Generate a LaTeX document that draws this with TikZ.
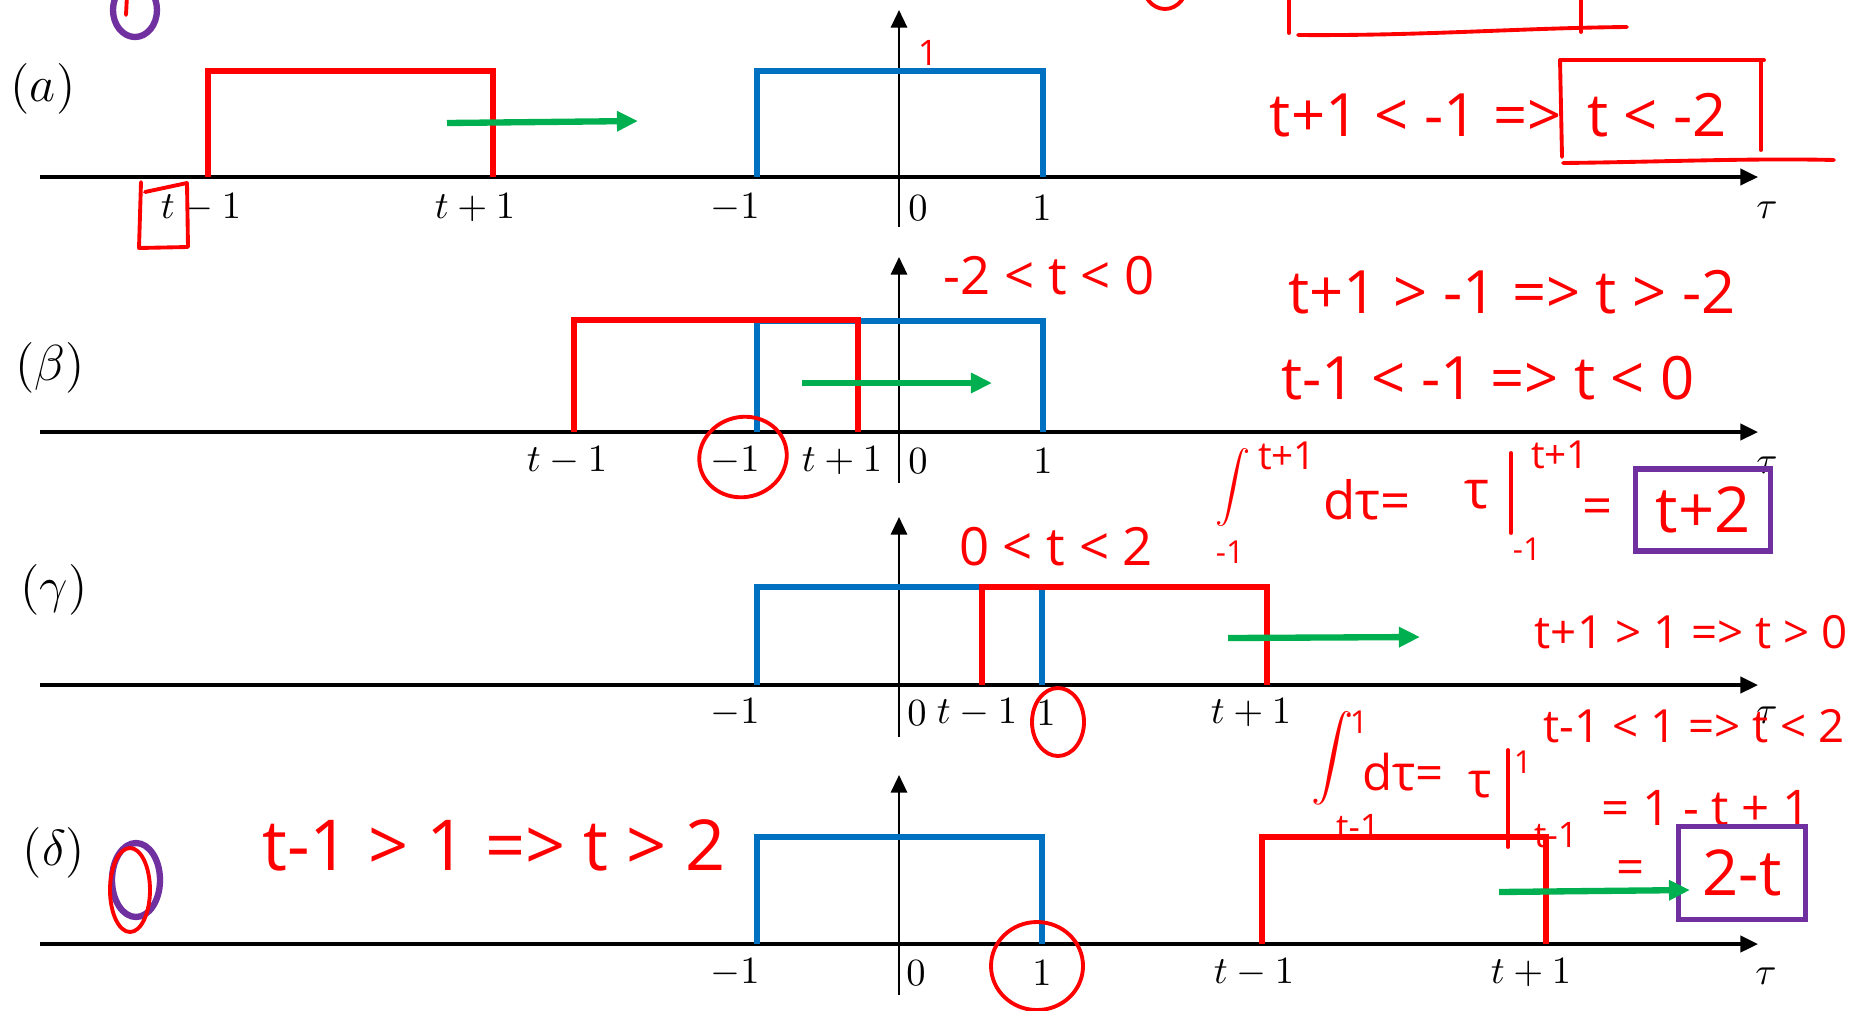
\documentclass[tikz,border=0pt]{standalone}
\usepackage{amsmath}
\usepackage{fontspec}
\usetikzlibrary{positioning, arrows.meta}
\newfontfamily\handfont{Open Sans}
\definecolor{Cr}{RGB}{255,0,0}
\definecolor{Cb}{RGB}{0,112,192}
\definecolor{Cg}{RGB}{0,176,80}
\definecolor{Cv}{RGB}{112,48,160}
\tikzset{
  ax/.style={-{Triangle[length=5pt,width=4.6pt]}, line width=1pt, color=black},
  vax/.style={-{Triangle[length=5pt,width=4.6pt]}, line width=0.7pt, color=black},
  pr/.style={draw=Cr, line width=1.7pt},
  pb/.style={draw=Cb, line width=1.6pt},
  mv/.style={-{Triangle[length=6pt,width=5.5pt]}, line width=1.8pt, color=Cg},
  tk/.style={inner sep=0pt, font=\fontsize{10.5}{12}\selectfont},
  lbl/.style={inner sep=0pt, font=\fontsize{13.5}{15}\selectfont},
  hw/.style n args={1}{
    inner sep=0pt, text=Cr, font=\handfont\fontsize{#1}{#1}\selectfont
  },
  intg/.style n args={1}{
    inner sep=0pt, text=Cr, font=\fontsize{#1}{#1}\selectfont
  },
  ink/.style={draw=Cr, line width=1.1pt, line cap=round, line join=round},
  inkv/.style={draw=Cv, line width=1.8pt, line cap=round, line join=round},
  res/.style={draw=Cv, line width=1.6pt, inner sep=0pt, text=Cr,
    font=\handfont\fontsize{18}{18}\selectfont}
}

\begin{document}
\begin{tikzpicture}
\useasboundingbox (0,0) rectangle (18.54,-10.10);
\clip (0,0) rectangle (18.54,-10.10);

% ─────────────────────────────────────────────────────────────────────────────
%  leftovers of the previous page (cut at the top edge)
% ─────────────────────────────────────────────────────────────────────────────
\draw[inkv] (1.35,-0.10) ellipse [x radius=0.22, y radius=0.27];
\draw[ink] (1.27,0.05) -- (1.26,-0.15);
\draw[ink] (11.65,0.19) ellipse [x radius=0.23, y radius=0.28];
\draw[ink] (12.89,0.10) -- (12.89,-0.33);
\draw[ink] (15.81,0.10) -- (15.81,-0.32);
\draw[ink] (12.98,-0.35) .. controls (14.2,-0.36) and (15.2,-0.28) .. (16.27,-0.27);

% ─────────────────────────────────────────────────────────────────────────────
%  (a)  no overlap
% ─────────────────────────────────────────────────────────────────────────────
\node[lbl] (la) at (0.43,-0.89) {$(a)$};
\draw[ax]  (0.40,-1.77) -- (17.58,-1.77);
\draw[vax] (8.99,-2.27) -- (8.99,-0.10);
\draw[pb] (7.57,-1.77) -- (7.57,-0.71) -- (10.43,-0.71) -- (10.43,-1.77);
\draw[pr] (2.08,-1.77) -- (2.08,-0.71) -- (4.93,-0.71) -- (4.93,-1.77);
\draw[mv] (4.47,-1.23) -- (6.38,-1.21);

\node[tk] (a1) at (2.01,-2.08)  {$t-1$};
\node[tk] (a2) at (4.75,-2.08)  {$t+1$};
\node[tk] (a3) at (7.35,-2.08)  {$-1$};
\node[tk] (a4) at (9.18,-2.08)  {$0$};
\node[tk] (a5) at (10.42,-2.08) {$1$};
\node[tk] (a6) at (17.67,-2.10) {$\tau$};

\node[hw={10}] (aone) at (9.28,-0.53) {1};
\draw[ink] (1.45,-1.92) -- (1.87,-1.83) -- (1.88,-2.47) -- (1.39,-2.48) -- (1.41,-1.82);

\node[hw={17}] (hA2) at (16.57,-1.15) {t < -2};
\node[hw={17}, left=0.24cm of hA2] (hA1) {t+1 < -1 =>};
\draw[ink] (15.60,-0.60) -- (17.64,-0.60);
\draw[ink] (15.60,-0.60) -- (15.62,-1.57);
\draw[ink] (17.61,-0.62) -- (17.61,-1.50);
\draw[ink] (15.63,-1.63) .. controls (16.6,-1.62) and (17.5,-1.58) .. (18.34,-1.60);

% ─────────────────────────────────────────────────────────────────────────────
%  (β)  partial overlap from the left
% ─────────────────────────────────────────────────────────────────────────────
\node[lbl] (lb) at (0.50,-3.68) {$(\beta)$};
\draw[ax]  (0.40,-4.32) -- (17.58,-4.32);
\draw[vax] (8.99,-4.83) -- (8.99,-2.57);
\draw[pb] (7.57,-4.32) -- (7.57,-3.21) -- (10.43,-3.21) -- (10.43,-4.32);
\draw[pr] (5.74,-4.32) -- (5.74,-3.20) -- (8.58,-3.20) -- (8.58,-4.32);
\draw[mv] (8.02,-3.83) -- (9.92,-3.83);

\node[tk] (b1) at (5.67,-4.61)  {$t-1$};
\node[tk] (b2) at (7.35,-4.61)  {$-1$};
\node[tk] (b3) at (8.42,-4.61)  {$t+1$};
\node[tk] (b4) at (9.18,-4.61)  {$0$};
\node[tk] (b5) at (10.43,-4.61) {$1$};
\node[tk] (b6) at (17.67,-4.65) {$\tau$};
\draw[ink, rotate around={15:(7.43,-4.57)}] (7.43,-4.57) ellipse [x radius=0.44, y radius=0.40];

\node[hw={15}] (hB0) at (10.49,-2.76) {-2 < t < 0};
\node[hw={17}] (hB1) at (15.12,-2.92) {t+1 > -1 => t > -2};
\node[hw={17}] (hB2) at (14.88,-3.78) {t-1 < -1 => t < 0};

% integral for (β)
\node[intg={10}] (iB)  at (12.33,-4.88) {$\displaystyle\int$};
\node[hw={11}]   (iBu) at (12.87,-4.56) {t+1};
\node[hw={9}]    (iBl) at (12.30,-5.52) {-1};
\node[hw={15}]   (dB)  at (13.67,-5.00) {dτ=};
\node[hw={15}]   (tB)  at (14.77,-4.95) {τ};
\draw[ink] (15.11,-4.53) -- (15.11,-5.33);
\node[hw={11}]   (tBu) at (15.60,-4.55) {t+1};
\node[hw={9}]    (tBl) at (15.27,-5.49) {-1};
\node[hw={15}]   (eB)  at (15.98,-5.12) {=};
\node[res, minimum width=1.35cm, minimum height=0.82cm] (resB) at (17.03,-5.10) {t+2};

% ─────────────────────────────────────────────────────────────────────────────
%  (γ)  partial overlap from the right
% ─────────────────────────────────────────────────────────────────────────────
\node[lbl] (lc) at (0.54,-5.90) {$(\gamma)$};
\draw[ax]  (0.40,-6.85) -- (17.58,-6.85);
\draw[vax] (8.99,-7.37) -- (8.99,-5.17);
\draw[pb] (7.57,-6.85) -- (7.57,-5.87) -- (10.42,-5.87) -- (10.42,-6.85);
\draw[pr] (9.82,-6.85) -- (9.82,-5.87) -- (12.67,-5.87) -- (12.67,-6.85);
\draw[mv] (12.28,-6.38) -- (14.20,-6.37);

\node[tk] (c1) at (7.35,-7.13)  {$-1$};
\node[tk] (c2) at (9.17,-7.13)  {$0$};
\node[tk] (c3) at (9.77,-7.13)  {$t-1$};
\node[tk] (c4) at (10.46,-7.13) {$1$};
\node[tk] (c5) at (12.51,-7.13) {$t+1$};
\node[tk] (c6) at (17.67,-7.15) {$\tau$};
\draw[ink] (10.58,-7.22) ellipse [x radius=0.26, y radius=0.34];

\node[hw={15}] (hG0) at (10.56,-5.47) {0 < t < 2};
\node[hw={13}] (hG1) at (16.91,-6.32) {t+1 > 1 => t > 0};
\node[hw={13}] (hG2) at (16.94,-7.26) {t-1 < 1 => t < 2};

% integral for (γ)
\node[intg={11.5}] (iD)  at (13.33,-7.58) {$\displaystyle\int$};
\node[hw={9}]      (iDu) at (13.59,-7.22) {1};
\node[hw={10}]     (iDl) at (13.58,-8.27) {t-1};
\node[hw={14}]     (dD)  at (14.03,-7.72) {dτ=};
\node[hw={14}]     (tD)  at (14.80,-7.85) {τ};
\draw[ink] (15.08,-7.50) -- (15.08,-8.47);
\node[hw={9}]      (tDu) at (15.23,-7.62) {1};
\node[hw={10}]     (tDl) at (15.56,-8.35) {t-1};
\node[hw={14}]     (eqD1) at (17.06,-8.08) {= 1 - t + 1};
\node[res, minimum width=1.27cm, minimum height=0.93cm] (resD) at (17.42,-8.73) {2-t};
\node[hw={14}, left=0.3cm of resD] (eqD2) {=};

% ─────────────────────────────────────────────────────────────────────────────
%  (δ)  no overlap any more
% ─────────────────────────────────────────────────────────────────────────────
\node[lbl] (ld) at (0.54,-8.53) {$(\delta)$};
\draw[inkv] (1.36,-8.80) ellipse [x radius=0.24, y radius=0.37];
\draw[ink] (1.30,-8.90) ellipse [x radius=0.20, y radius=0.42];
\draw[ax]  (0.40,-9.44) -- (17.58,-9.44);
\draw[vax] (8.99,-9.95) -- (8.99,-7.75);
\draw[pb] (7.57,-9.44) -- (7.57,-8.37) -- (10.42,-8.37) -- (10.42,-9.44);
\draw[pr] (12.62,-9.44) -- (12.62,-8.37) -- (15.46,-8.37) -- (15.46,-9.44);
\draw[mv] (14.99,-8.92) -- (16.90,-8.90);

\node[tk] (d1) at (7.35,-9.73)  {$-1$};
\node[tk] (d2) at (9.16,-9.73)  {$0$};
\node[tk] (d3) at (10.42,-9.73) {$1$};
\node[tk] (d4) at (12.54,-9.73) {$t-1$};
\node[tk] (d5) at (15.31,-9.73) {$t+1$};
\node[tk] (d6) at (17.66,-9.76) {$\tau$};
\draw[ink] (10.37,-9.66) ellipse [x radius=0.46, y radius=0.44];

\node[hw={20}] (hD0) at (4.94,-8.45) {t-1 > 1 => t > 2};

\end{tikzpicture}
\end{document}
